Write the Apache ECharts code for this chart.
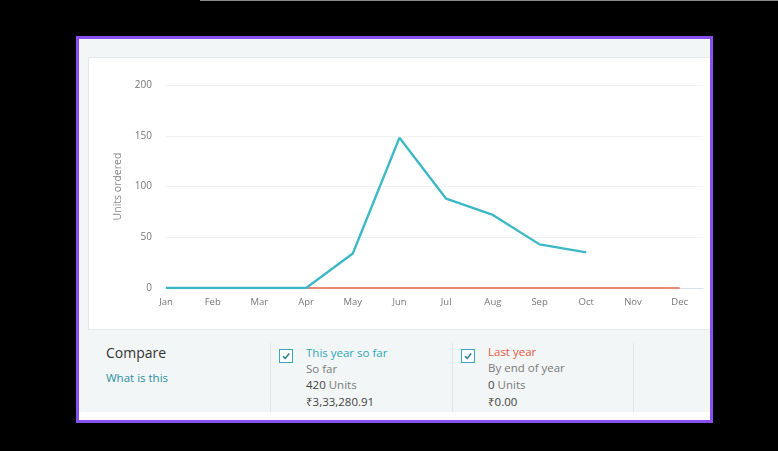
<!DOCTYPE html>
<html>
<head>
<meta charset="utf-8">
<script src="https://cdn.jsdelivr.net/npm/echarts@6/dist/echarts.min.js"></script>
<style>
  html, body { margin:0; padding:0; background:#000; width:778px; height:451px; overflow:hidden; font-family:"Open Sans","Noto Sans","DejaVu Sans",sans-serif; }
  #topline { position:absolute; left:200px; top:0; width:578px; height:1px; background:#8a8a8a; }
  #frame { position:absolute; left:76px; top:36px; width:631px; height:381px; border:3px solid #8b4ef0; background:#f3f6f7; }
  #card { position:absolute; left:88px; top:57px; width:622px; height:273px; background:#fff; border-top:1px solid #e6e9eb; border-left:1px solid #e6e9eb; border-bottom:1px solid #e6e9eb; box-sizing:border-box; }
  #chart { position:absolute; left:88px; top:57px; width:622px; height:273px; }
  #whitestrip { position:absolute; left:79px; top:412px; width:631px; height:8px; background:#fff; }
  .t { position:absolute; white-space:nowrap; line-height:16px; }
  .div { position:absolute; top:343px; width:1px; height:69px; background:#e1e5e8; }
  .cb { position:absolute; width:12px; height:12px; border:1.5px solid #3aa8ba; background:#fff; }
  .cb svg { position:absolute; left:1px; top:1px; }
</style>
</head>
<body>
<div id="topline"></div>
<div id="frame"></div>
<div id="card"></div>
<div id="chart"></div>
<div id="whitestrip"></div>

<div class="t" style="left:106px;top:345px;font-size:14px;color:#333;">Compare</div>
<div class="t" style="left:106px;top:370px;font-size:11.5px;color:#2a8fa2;">What is this</div>

<div class="div" style="left:270px;"></div>
<div class="div" style="left:452px;"></div>
<div class="div" style="left:633px;"></div>

<div class="cb" style="left:279px;top:349px;"><svg width="10" height="10" viewBox="0 0 10 10"><path d="M2 5.2 L4.2 7.4 L8.2 2.6" fill="none" stroke="#2e7f8f" stroke-width="1.6"/></svg></div>
<div class="t" style="left:306px;top:345px;font-size:11.5px;color:#2ea7b8;">This year so far</div>
<div class="t" style="left:306px;top:361px;font-size:11.5px;color:#7a7a7a;">So far</div>
<div class="t" style="left:306px;top:377px;font-size:11.5px;color:#7a7a7a;"><span style="color:#444;">420</span> Units</div>
<div class="t" style="left:306px;top:394px;font-size:11.5px;color:#444;">₹3,33,280.91</div>

<div class="cb" style="left:461px;top:349px;"><svg width="10" height="10" viewBox="0 0 10 10"><path d="M2 5.2 L4.2 7.4 L8.2 2.6" fill="none" stroke="#2e7f8f" stroke-width="1.6"/></svg></div>
<div class="t" style="left:488px;top:344px;font-size:11.5px;color:#e4573c;">Last year</div>
<div class="t" style="left:488px;top:360px;font-size:11.5px;color:#7a7a7a;">By end of year</div>
<div class="t" style="left:488px;top:377px;font-size:11.5px;color:#7a7a7a;"><span style="color:#444;">0</span> Units</div>
<div class="t" style="left:488px;top:394px;font-size:11.5px;color:#444;">₹0.00</div>

<script>
const months = ['Jan','Feb','Mar','Apr','May','Jun','Jul','Aug','Sep','Oct','Nov','Dec'];
const thisYear = [0, 0, 0, 0, 34, 148, 88, 72, 43, 35, null, null];
const lastYear = [0, 0, 0, 0, 0, 0, 0, 0, 0, 0, 0, 0];
const yTicks = [0, 50, 100, 150, 200];

function toPairs(arr) {
  const out = [];
  arr.forEach((v, i) => { if (v !== null) out.push([i, v]); });
  return out;
}

const chart = echarts.init(document.getElementById('chart'));
chart.setOption({
  animation: false,
  grid: { left: 78, right: 7, top: 28, bottom: 42, containLabel: false },
  xAxis: {
    type: 'value', min: 0, max: 11.5, interval: 1,
    axisLine: { show: true, lineStyle: { color: '#dbe2ea', width: 1 } },
    axisTick: { show: false },
    splitLine: { show: false },
    axisLabel: {
      color: '#777', fontSize: 9.5, margin: 9,
      fontFamily: 'Open Sans',
      formatter: v => (Number.isInteger(v) && months[v]) ? months[v] : ''
    }
  },
  yAxis: {
    type: 'value', min: yTicks[0], max: yTicks[yTicks.length - 1], interval: 50,
    name: 'Units ordered', nameLocation: 'middle', nameRotate: 90, nameGap: 42,
    nameTextStyle: { color: '#888', fontSize: 10.5, fontFamily: 'Open Sans' },
    axisLine: { show: false }, axisTick: { show: false },
    axisLabel: { color: '#777', fontSize: 10, margin: 14, fontFamily: 'Open Sans' },
    splitLine: { lineStyle: { color: '#f0f2f3', width: 1 } }
  },
  series: [
    { name: 'Last year', type: 'line', data: toPairs(lastYear), showSymbol: false,
      lineStyle: { color: '#ea8674', width: 2 }, z: 2 },
    { name: 'This year so far', type: 'line', data: toPairs(thisYear), showSymbol: false,
      lineStyle: { color: '#3ab8c7', width: 2.3 }, z: 3 }
  ]
});
</script>
</body>
</html>
